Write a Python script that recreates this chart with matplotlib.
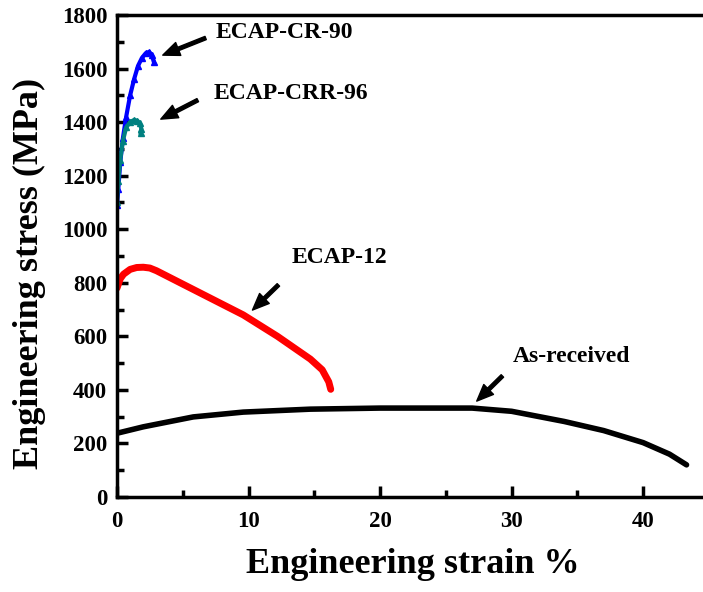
import matplotlib.pyplot as plt
from matplotlib.ticker import MultipleLocator

plt.rcParams['font.family'] = 'Liberation Serif'
plt.rcParams['font.weight'] = 'bold'

# tensile curves: strain (%) and stress (MPa)
cr90_strain = [0, 0.1, 0.25, 0.45, 0.7, 1.0, 1.3, 1.6, 1.9, 2.2, 2.45, 2.65, 2.8]
cr90_stress = [1090, 1150, 1250, 1340, 1420, 1500, 1560, 1610, 1640, 1658, 1662, 1650, 1625]

crr96_strain = [0, 0.1, 0.25, 0.45, 0.7, 1.0, 1.3, 1.55, 1.75, 1.85, 1.8]
crr96_stress = [1100, 1180, 1260, 1330, 1380, 1400, 1408, 1405, 1395, 1375, 1360]

ecap12_strain = [0, 0.25, 0.5, 1.0, 1.5, 2.0, 2.5, 3.0, 4.6, 7.0, 9.6, 12.2, 14.7, 15.6, 16.1, 16.25]
ecap12_stress = [780, 815, 832, 850, 857, 858, 855, 845, 805, 745, 680, 600, 515, 475, 430, 402]

asrec_strain = [0, 2, 5.8, 9.6, 14.7, 20, 27, 30, 34, 37, 40, 42, 43.3]
asrec_stress = [238, 262, 299, 317, 328, 332, 332, 320, 282, 248, 203, 160, 120]

fig = plt.figure(figsize=(7.03, 5.92), dpi=100)
ax = fig.add_axes([0.1664, 0.1605, 0.842, 0.8142])

ax.plot(asrec_strain, asrec_stress, color='black', lw=4, solid_capstyle='round')
ax.plot(ecap12_strain, ecap12_stress, color='#ff0000', lw=5, solid_capstyle='round')
ax.plot(cr90_strain, cr90_stress, color='#0000ff', lw=3, marker='^', ms=5)
ax.plot(crr96_strain, crr96_stress, color='#008080', lw=3, marker='^', ms=5)

arrow = dict(facecolor='black', edgecolor='black', width=2.5, headwidth=10, headlength=12, shrink=0)
ax.annotate('', xy=(3.48, 1650), xytext=(6.74, 1714), arrowprops=arrow)
ax.annotate('', xy=(3.33, 1411), xytext=(6.14, 1482), arrowprops=arrow)
ax.annotate('', xy=(10.3, 698), xytext=(12.27, 792), arrowprops=arrow)
ax.annotate('', xy=(27.35, 358), xytext=(29.3, 452), arrowprops=arrow)

ax.text(7.5, 1733, 'ECAP-CR-90', fontsize=17, fontweight='bold', va='center')
ax.text(7.35, 1508, 'ECAP-CRR-96', fontsize=17, fontweight='bold', va='center')
ax.text(13.3, 896, 'ECAP-12', fontsize=17, fontweight='bold', va='center')
ax.text(30.1, 523, 'As-received', fontsize=17, fontweight='bold', va='center')

ax.set_xlim(0, 45)
ax.set_ylim(0, 1800)
ax.xaxis.set_major_locator(MultipleLocator(10))
ax.xaxis.set_minor_locator(MultipleLocator(5))
ax.yaxis.set_major_locator(MultipleLocator(200))
ax.yaxis.set_minor_locator(MultipleLocator(100))
ax.tick_params(which='both', direction='in', width=2.5, labelsize=16.5)
ax.tick_params(which='major', length=8)
ax.tick_params(which='minor', length=5)
ax.tick_params(axis='x', pad=10)
ax.tick_params(axis='y', pad=7)
for lab in ax.get_xticklabels() + ax.get_yticklabels():
    lab.set_fontweight('bold')
for sp in ax.spines.values():
    sp.set_linewidth(2.5)

ax.set_xlabel('Engineering strain %', fontsize=26, fontweight='bold', va='center')
ax.set_ylabel('Engineering stress (MPa)', fontsize=26, fontweight='bold', va='center')
ax.xaxis.set_label_coords(0.5, -0.141)
ax.yaxis.set_label_coords(-0.147, 0.463)

fig.savefig('out.png', dpi=100)
